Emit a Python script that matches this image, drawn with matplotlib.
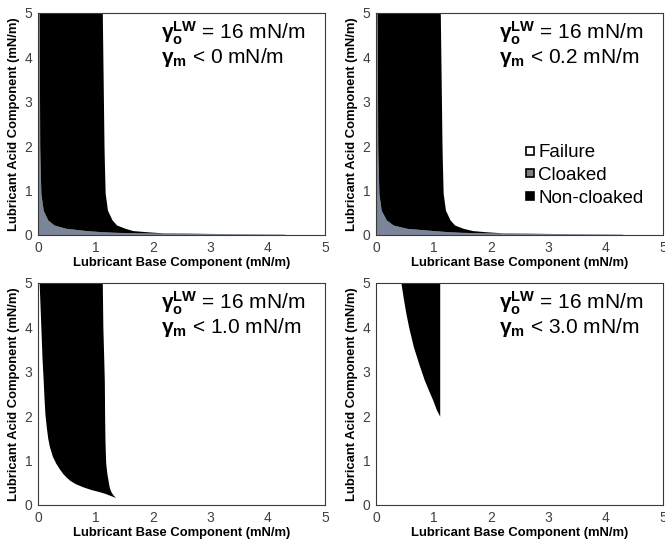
import numpy as np
import matplotlib
matplotlib.use("Agg")
import matplotlib.pyplot as plt
from matplotlib.lines import Line2D

plt.rcParams['font.family'] = ['Liberation Sans', 'DejaVu Sans']
plt.rcParams['mathtext.fontset'] = 'custom'
plt.rcParams['mathtext.rm'] = 'Liberation Sans'
plt.rcParams['mathtext.bf'] = 'Liberation Sans:bold'
plt.rcParams['mathtext.it'] = 'Liberation Sans:italic'

# γm thresholds for the four panels
gamma_m = ['0', '0.2', '1.0', '3.0']
gamma_lw = 16

# non-cloaked region boundaries (acid component y, base component x)
nc1_y = [5, 2, 1.69, 0.94, 0.56, 0.34, 0.225, 0.15, 0.1, 0.075, 0.06, 0.05, 0.035, 0.022]
nc1_left = [0.02, 0.03, 0.035, 0.05, 0.09, 0.17, 0.28, 0.49, 0.84, 1.1, 1.36, 1.7, 2.6, 4.3]
nc1_right = [1.12, 1.15, 1.155, 1.17, 1.21, 1.29, 1.37, 1.52, 1.65, 1.88, 2.05, 2.17, 3.0, 4.3]

nc2_y = [5, 2, 1.69, 0.94, 0.56, 0.34, 0.225, 0.15, 0.1, 0.075, 0.06, 0.05, 0.035, 0.022]
nc2_left = [0.02, 0.03, 0.035, 0.05, 0.09, 0.18, 0.3, 0.54, 1.0, 1.25, 1.5, 1.85, 2.7, 4.3]
nc2_right = [1.12, 1.15, 1.155, 1.17, 1.21, 1.29, 1.37, 1.52, 1.68, 1.9, 2.08, 2.2, 3.0, 4.3]

nc3_y = [5, 4, 3.3, 2.82, 2.4, 2.06, 1.75, 1.5, 1.31, 1.1, 0.94, 0.82, 0.71, 0.63, 0.56, 0.48, 0.41, 0.35, 0.30, 0.26, 0.225, 0.17]
nc3_left = [0.02, 0.05, 0.07, 0.09, 0.105, 0.12, 0.145, 0.17, 0.2, 0.25, 0.31, 0.37, 0.43, 0.49, 0.55, 0.65, 0.78, 0.92, 1.07, 1.17, 1.24, 1.35]
nc3_right = [1.12, 1.13, 1.145, 1.155, 1.158, 1.16, 1.163, 1.166, 1.17, 1.175, 1.18, 1.19, 1.2, 1.21, 1.22, 1.23, 1.24, 1.255, 1.27, 1.29, 1.31, 1.35]

nc4_y = [5, 4.7, 4.32, 4.0, 3.57, 3.2, 2.82, 2.6, 2.36, 2.15, 2.0]
nc4_left = [0.435, 0.47, 0.52, 0.57, 0.65, 0.74, 0.84, 0.91, 0.99, 1.05, 1.11]
nc4_right = [1.11, 1.11, 1.11, 1.11, 1.11, 1.11, 1.11, 1.11, 1.11, 1.11, 1.11]

panels = [
    (nc1_y, nc1_left, nc1_right, True),
    (nc2_y, nc2_left, nc2_right, True),
    (nc3_y, nc3_left, nc3_right, False),
    (nc4_y, nc4_left, nc4_right, False),
]

cloak_color = '#7a8599'
fig = plt.figure(figsize=(6.65, 5.39), dpi=100)

W, H = 665, 539
boxes = [(38, 13), (376, 13), (38, 283), (376, 283)]
aw, ah = 287, 222

for i, (ys, xl, xr, cloak) in enumerate(panels):
    x0, y0 = boxes[i]
    ax = fig.add_axes([x0 / W, 1 - (y0 + ah) / H, aw / W, ah / H])
    ys = np.array(ys)
    if cloak:
        # cloaked region lies between the axes and the non-cloaked region
        ax.fill_betweenx(np.append(ys, 0), 0, np.append(xl, xl[-1]),
                         color=cloak_color, lw=0)
    ax.fill_betweenx(ys, xl, xr, color='black', lw=0)
    ax.set_xlim(0, 5)
    ax.set_ylim(0, 5)
    ax.set_xticks(range(6))
    ax.set_yticks(range(6))
    ax.tick_params(length=0, labelsize=10, labelcolor='#404040', pad=4)
    for s in ax.spines.values():
        s.set_color('#3a3a3a')
        s.set_linewidth(0.8)
    ax.set_xlabel('Lubricant Base Component (mN/m)', fontsize=9.4,
                  fontweight='bold', labelpad=2)
    ax.set_ylabel('Lubricant Acid Component (mN/m)', fontsize=9.4,
                  fontweight='bold', labelpad=3)
    ax.text(0.43, 0.88, r'$\mathbf{\gamma_o^{LW}}$ = %d mN/m' % gamma_lw,
            transform=ax.transAxes, fontsize=15)
    ax.text(0.43, 0.775, r'$\mathbf{\gamma_m}$ < %s mN/m' % gamma_m[i],
            transform=ax.transAxes, fontsize=15)
    if i == 1:
        handles = [Line2D([], [], ls='none', marker='s', ms=6, mfc=c, mec='black', mew=1.2)
                   for c in ['white', '#808080', 'black']]
        ax.legend(handles, ['Failure', 'Cloaked', 'Non-cloaked'], frameon=False,
                  loc='upper left', bbox_to_anchor=(0.52, 0.41), fontsize=13.5,
                  handlelength=0.5, handletextpad=0.2, labelspacing=0.3,
                  borderpad=0, borderaxespad=0)

fig.savefig('out.png', dpi=100)
